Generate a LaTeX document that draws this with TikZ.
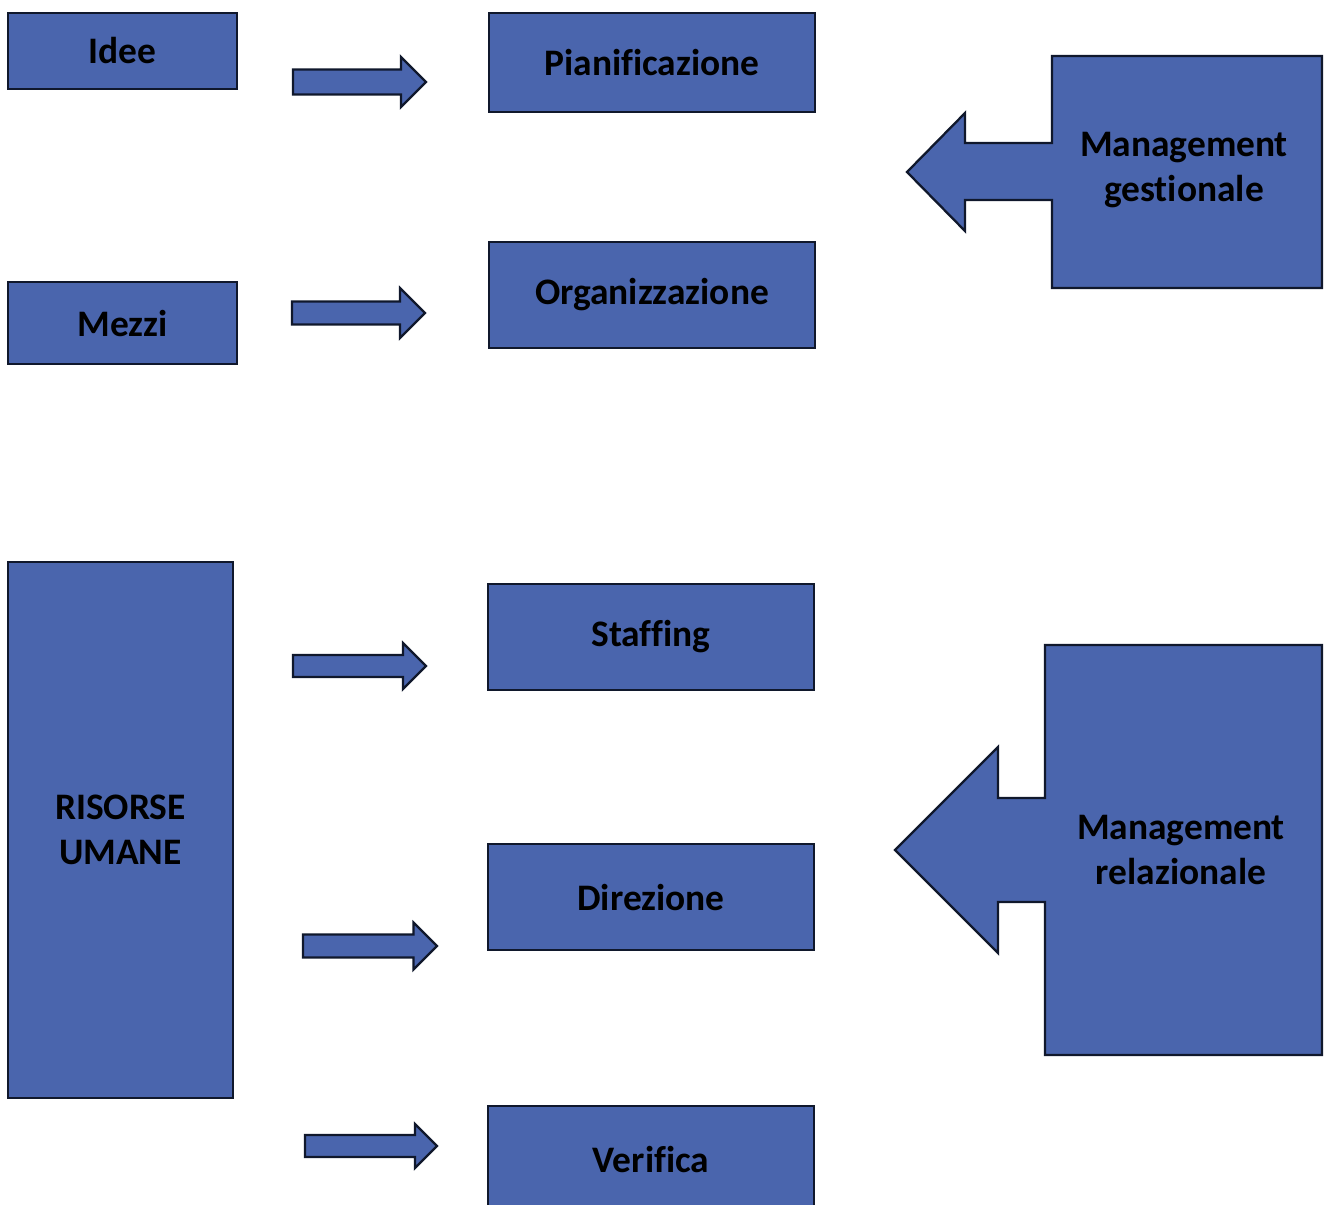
\documentclass[tikz,border=0pt]{standalone}
\usepackage{fontspec}
\setmainfont{Carlito}[Ligatures=NoCommon]
\usetikzlibrary{positioning}
\definecolor{boxblue}{RGB}{74,101,173}
\definecolor{boxedge}{RGB}{16,24,44}

\begin{document}
\begin{tikzpicture}[
        x=0.02cm, y=-0.02cm,
        box/.style={draw=boxedge, line width=1.3pt, fill=boxblue, align=center,
            font=\bfseries\fontsize{21.3}{26}\selectfont, inner sep=0pt},
        src/.style={box, minimum width=4.58cm},
        act/.style={box, minimum width=6.52cm, minimum height=2.12cm},
        label/.style={align=center, font=\bfseries\fontsize{21.3}{26}\selectfont},
        blk/.style={draw=boxedge, line width=1.3pt, fill=boxblue, line join=miter}
    ]
    \useasboundingbox (0,0) rectangle (1331,1204);

    % Left column: resources
    \node[src, minimum height=1.52cm] (idee) at (122.5,51) {Idee};
    \node[src, minimum height=1.64cm] (mezzi) at (122.5,323) {Mezzi};
    \node[src, minimum width=4.5cm, minimum height=10.72cm] (risorse) at (120.5,830) {RISORSE\\UMANE};

    % Middle column: functions
    \node[act, minimum height=1.98cm] (pian) at (652,62.5) {Pianificazione};
    \node[act] (org) at (652,295) {Organizzazione};
    \node[act] (staff) at (651,637) {Staffing};
    \node[act] (dir) at (651,897) {Direzione};
    \node[act] (ver) at (651,1159) {Verifica};

    % Block arrows: x/y/length/shaft/head
    \foreach \ax/\ay/\al/\as/\ah in {293/82/133/12.5/25, 292/313/133/11.5/25,
            293/666/133/11/23, 303/946/134/11.5/23.5, 305/1146/132/11/22}
        \draw[blk] (\ax,\ay-\as) -- (\ax+\al-\ah,\ay-\as) -- (\ax+\al-\ah,\ay-\ah)
            -- (\ax+\al,\ay) -- (\ax+\al-\ah,\ay+\ah) -- (\ax+\al-\ah,\ay+\as)
            -- (\ax,\ay+\as) -- cycle;

    % Management gestionale
    \draw[blk] (1322,56) -- (1052,56) -- (1052,143) -- (965,143) -- (965,113)
        -- (907,172) -- (965,231) -- (965,200) -- (1052,200) -- (1052,288)
        -- (1322,288) -- cycle;
    \node[label] (mg) at (1184,170) {Management\\gestionale};

    % Management relazionale
    \draw[blk] (1322,645) -- (1045,645) -- (1045,798) -- (998,798) -- (998,747)
        -- (895,850) -- (998,953) -- (998,902) -- (1045,902) -- (1045,1055)
        -- (1322,1055) -- cycle;
    \node[label] (mr) at (1181,850) {Management\\relazionale};

\end{tikzpicture}
\end{document}
